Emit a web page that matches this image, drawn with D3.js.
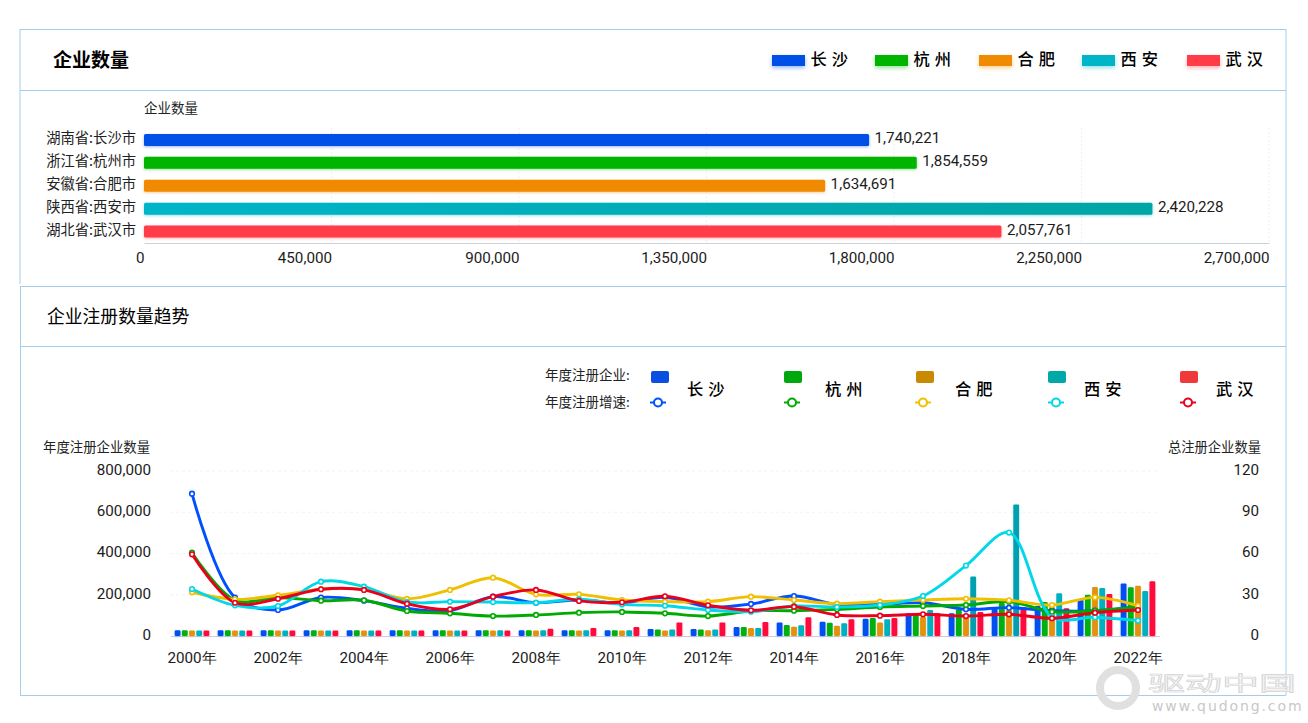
<!DOCTYPE html>
<html><head><meta charset="utf-8">
<script src="https://cdn.jsdelivr.net/npm/d3@7"></script>
<style>
html,body{margin:0;padding:0;background:#fff;overflow:hidden}
svg{display:block}
text{font-family:"Noto Sans CJK SC",sans-serif;fill:#222}
.num text,text.num{font-family:Roboto,sans-serif;font-size:15.2px;fill:#1c1c1c}
</style></head><body>
<svg id="c" width="1308" height="723"></svg>
<script>
// ---------- data ----------
const cities = ["长沙","杭州","合肥","西安","武汉"];
const regionLabels = ["湖南省:长沙市","浙江省:杭州市","安徽省:合肥市","陕西省:西安市","湖北省:武汉市"];
const totals = [1740221,1854559,1634691,2420228,2057761];
const totalTicks = [0,450000,900000,1350000,1800000,2250000,2700000];
const years = d3.range(2000,2023).map(y=>y+"年");
const barsChangsha = [28000,28000,28000,28000,28000,28000,28000,28000,28000,28000,28000,34000,34000,44000,66000,69000,84000,110000,110000,139000,145000,175000,255000];
const barsHangzhou = [28000,28000,28000,28000,28000,28000,28000,28000,28000,28000,28000,32000,32000,44000,53000,64000,87000,107000,129000,160000,165000,200000,236000];
const barsHefei = [27000,27000,27000,27000,27000,27000,27000,27000,27000,27000,27000,27000,28000,39000,45000,50000,66000,92000,107000,126000,141000,238000,244000];
const barsXian = [27000,27000,27000,27000,27000,27000,27000,28000,28000,28000,28000,32000,32000,39000,52000,62000,81000,126000,288000,638000,207000,233000,218000];
const barsWuhan = [27000,27000,27000,27000,27000,27000,27000,27000,35000,39000,44000,66000,66000,68000,91000,81000,87000,110000,116000,139000,134000,204000,265000];
const growthChangsha = [103.5,28,18.9,28,25.7,20.1,18.4,28.6,24.2,26.2,24,28.1,21.3,23.3,29.1,23,23,24.2,19.4,20.6,18.4,18.4,21.3];
const growthHangzhou = [60.6,26,28,25.7,26,18.2,16.5,14.5,15.3,17,17.5,16.5,14.5,18.2,18.4,19.4,21.1,21.8,22.5,25,17.7,18.4,21.3];
const growthHefei = [31.8,26.7,29.6,34,34,27,33.5,42.4,30.3,30.3,26.2,25,25,28.6,26.2,23.5,25,26.2,27.1,26,22.5,28.1,22];
const growthXian = [34.2,22.3,21.8,39.5,35.9,24.7,25,24.7,24.2,26.7,23,22,18.9,17.7,21.8,21.1,22.5,29.1,51.2,75.2,14,13.6,11.2];
const growthWuhan = [59.4,24.2,27.1,34,33.5,23.5,19.4,28.6,33.5,25.5,24.5,28.9,22.3,18.7,21.3,15.3,14.8,15.8,14.5,15.8,12.9,17,18.9];
const leftTicks = [0,200000,400000,600000,800000];
const rightTicks = [0,30,60,90,120];
const allBars = [barsChangsha,barsHangzhou,barsHefei,barsXian,barsWuhan];
const allGrowth = [growthChangsha,growthHangzhou,growthHefei,growthXian,growthWuhan];
// ---------- colours ----------
const topColors = ["#0050e8","#00b400","#f08a00","#00b5c8","#ff3c48"];
const barColors = ["#0050f0","#00b010","#e2920f","#00b0c0","#ff0a3c"];
const swatchColors = ["#0a4fe0","#00a810","#c88a00","#00a8a8","#f03a3a"];
const lineColors = ["#0050ff","#00aa00","#f0c000","#00d8e8","#e8001c"];

const svg = d3.select("#c");
const border = "#a5cdea";
// panels
[[20,1286,29],[20,1286,90],[20,1286,286],[20,1286,346],[20,1286,695]].forEach(([a,b,y])=>
  svg.append("line").attr("x1",a).attr("x2",b).attr("y1",y+.5).attr("y2",y+.5).attr("stroke",border));
[[20,29,284],[20.5,287,695],[1286,29,695]].forEach(([x,a,b])=>
  svg.append("line").attr("x1",x).attr("x2",x).attr("y1",a).attr("y2",b).attr("stroke",border));

// ---------- top ----------
svg.append("text").attr("x",53).attr("y",67).attr("font-size",19).attr("font-weight",700).style("fill","#000").text("企业数量");
svg.append("text").attr("x",144).attr("y",113).attr("font-size",13.5).text("企业数量");
const x1 = d3.scaleLinear().domain([0,2700000]).range([144,1269]);
const y1 = d3.scaleBand().domain(regionLabels).range([128.5,243]);
const gTop = svg.append("g");
totalTicks.slice(1).forEach(t=>gTop.append("line").attr("x1",x1(t)).attr("x2",x1(t)).attr("y1",128).attr("y2",243)
   .attr("stroke","#f0f0f0").attr("stroke-dasharray","2 2"));
const axT = svg.append("g").attr("class","num").attr("transform","translate(0,243)")
   .call(d3.axisBottom(x1).tickValues(totalTicks).tickFormat(d3.format(",")).tickSize(0).tickPadding(9));
axT.select(".domain").attr("stroke","#c6d3d8");
axT.selectAll("text").attr("text-anchor","end").attr("font-size",15.2).attr("font-family","Roboto,sans-serif");
const defs = svg.append("defs");
const gr = defs.append("linearGradient").attr("id","tealTop");
gr.append("stop").attr("offset","0").attr("stop-color","#00b5c8");
gr.append("stop").attr("offset","1").attr("stop-color","#00a5a5");
regionLabels.forEach((r,i)=>{
  const yy = y1(r)+y1.bandwidth()/2;
  svg.append("rect").attr("x",x1(0)).attr("y",yy-6).attr("width",x1(totals[i])-x1(0)).attr("height",12).attr("rx",1.5)
    .attr("fill",i==3?"url(#tealTop)":topColors[i])
    .style("filter",`drop-shadow(0 1.5px 1.5px ${topColors[i]}66)`);
  svg.append("text").attr("x",136).attr("y",yy-2).attr("dy",".36em").attr("text-anchor","end").attr("font-size",14.3).text(r);
  svg.append("text").attr("class","num").attr("x",x1(totals[i])+5.5).attr("y",yy-2).attr("dy",".36em").text(d3.format(",")(totals[i]));
});
// top legend
const legX = [772,875,979,1082,1187];
cities.forEach((c,i)=>{
  svg.append("rect").attr("x",legX[i]).attr("y",55).attr("width",33).attr("height",11)
    .attr("fill",topColors[i]).style("filter",`drop-shadow(0 2px 2px ${topColors[i]}66)`);
  svg.append("text").attr("x",legX[i]+38.5).attr("y",65).attr("font-size",16.3).attr("font-weight",500)
    .attr("letter-spacing",5).style("fill","#000").text(c);
});

// ---------- bottom ----------
svg.append("text").attr("x",47).attr("y",323).attr("font-size",17.8).style("fill","#000").text("企业注册数量趋势");
svg.append("text").attr("x",545).attr("y",380).attr("font-size",13.5).text("年度注册企业:");
svg.append("text").attr("x",545).attr("y",407).attr("font-size",13.5).text("年度注册增速:");
const swX = [651,784,916,1048,1180], mkX=[658,792,923,1056,1188], tX=[687,825,955,1084,1216];
cities.forEach((c,i)=>{
  svg.append("rect").attr("x",swX[i]).attr("y",371).attr("width",18).attr("height",12).attr("rx",2).attr("fill",swatchColors[i]);
  svg.append("line").attr("x1",mkX[i]-8).attr("x2",mkX[i]+8).attr("y1",402.5).attr("y2",402.5).attr("stroke",lineColors[i]).attr("stroke-width",2);
  svg.append("circle").attr("cx",mkX[i]).attr("cy",402.5).attr("r",4).attr("fill","#fff").attr("stroke",lineColors[i]).attr("stroke-width",2);
  svg.append("text").attr("x",tX[i]).attr("y",395).attr("font-size",16.3).attr("font-weight",500).attr("letter-spacing",5).style("fill","#000").text(c);
});
svg.append("text").attr("x",43).attr("y",452).attr("font-size",13.4).text("年度注册企业数量");
svg.append("text").attr("x",1261).attr("y",452).attr("text-anchor","end").attr("font-size",13.3).text("总注册企业数量");

const xB = d3.scaleBand().domain(years).range([170.5,1159.5]);
const xS = d3.scaleBand().domain(d3.range(5)).range([-18,18]);
const yL = d3.scaleLinear().domain([0,800000]).range([636,471]);
const yR = d3.scaleLinear().domain([0,120]).range([636,471]);
leftTicks.slice(1).forEach(t=>svg.append("line").attr("x1",170).attr("x2",1160).attr("y1",yL(t)).attr("y2",yL(t))
   .attr("stroke","#f3f3f3").attr("stroke-dasharray","3 3"));
const axB = svg.append("g").attr("class","num").attr("transform","translate(0,636)")
   .call(d3.axisBottom(xB).tickValues(years.filter((d,i)=>i%2==0)).tickSize(0).tickPadding(16));
axB.select(".domain").attr("stroke","#cfcbdc");
axB.selectAll("text").attr("font-size",15.6).attr("font-family","Roboto,'Noto Sans CJK SC',sans-serif");
const axL = svg.append("g").attr("class","num").attr("transform","translate(151,0)")
   .call(d3.axisLeft(yL).tickValues(leftTicks).tickFormat(d3.format(",")).tickSize(0).tickPadding(0));
axL.select(".domain").remove();
const axR = svg.append("g").attr("class","num").attr("transform","translate(1259,0)")
   .call(d3.axisLeft(yR).tickValues(rightTicks).tickSize(0).tickPadding(0));
axR.select(".domain").remove();
[axL,axR].forEach(a=>a.selectAll("text").attr("font-size",15.2).attr("font-family","Roboto,sans-serif").attr("dy",".22em"));

allBars.forEach((vals,s)=>{
  svg.append("g").style("filter",`drop-shadow(0 1.5px 1px ${barColors[s]}44)`).selectAll("rect").data(vals).join("rect")
    .attr("x",(d,i)=>xB(years[i])+xB.bandwidth()/2+xS(s)+0.7)
    .attr("width",xS.bandwidth()-1.4)
    .attr("y",d=>yL(d)).attr("height",d=>yL(0)-yL(d)).attr("rx",1.2)
    .attr("fill",d=>(s==3&&d>250000)?"#00a0b0":barColors[s]);
});
const cx = (i)=>xB(years[i])+xB.bandwidth()/2;
const lineGen = d3.line().x((d,i)=>cx(i)).y(d=>yR(d)).curve(d3.curveCatmullRom.alpha(0.5));
allGrowth.forEach((vals,s)=>{
  svg.append("path").attr("d",lineGen(vals)).attr("fill","none").attr("stroke",lineColors[s]).attr("stroke-width",2.9);
});
allGrowth.forEach((vals,s)=>{
  svg.append("g").selectAll("circle").data(vals).join("circle")
    .attr("cx",(d,i)=>cx(i)).attr("cy",d=>yR(d)).attr("r",2.3)
    .attr("fill","#fff").attr("stroke",lineColors[s]).attr("stroke-width",1.6);
});

// ---------- watermark ----------
const wm = svg.append("g");
wm.append("circle").attr("cx",1118).attr("cy",688).attr("r",18).attr("fill","none").attr("stroke","#e0e0e0").attr("stroke-width",8);
wm.append("text").attr("transform","translate(1148,691) scale(1.85,1)").attr("font-size",20)
  .style("fill","#f6f6f6").style("stroke","#d4d4d4").style("stroke-width",.6).text("驱动中国");
wm.append("text").attr("x",1152).attr("y",711).attr("font-size",14).attr("letter-spacing",1.9)
  .style("font-family","'DejaVu Sans',sans-serif").style("fill","#c8c8c8").text("www.qudong.com");
</script>
</body></html>
